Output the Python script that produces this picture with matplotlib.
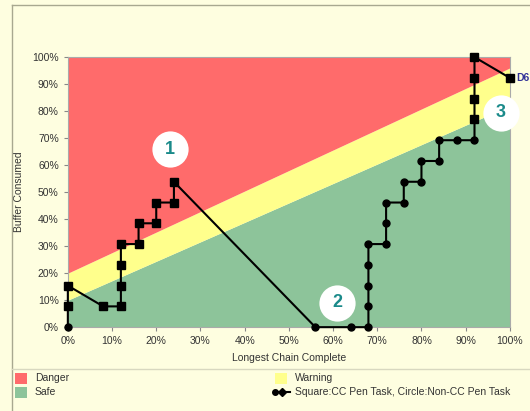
"""
Buffer fever chart: buffer consumed against longest chain complete.
"""

import matplotlib
matplotlib.use("Agg")
import matplotlib.pyplot as plt
from matplotlib.lines import Line2D
from matplotlib.patches import Rectangle

plt.rcParams["font.family"] = ["Liberation Sans", "DejaVu Sans"]

STEP = 100 / 13

# zone boundaries (percent of buffer consumed at 0% and 100% chain complete)
BAND_X = [0, 100]
SAFE_TOP = [10, 82]
WARN_TOP = [20, 96]

# task history
CHAIN_PCT = [0, 0, 0, 8, 12, 12, 12, 12, 16, 16, 20, 20, 24, 24,
             56, 64, 68, 68, 68, 68, 68, 72, 72, 72, 76, 76, 80, 80,
             84, 84, 88, 92, 92, 92, 92, 92, 100]
BUFFER_STEPS = [0, 1, 2, 1, 1, 2, 3, 4, 4, 5, 5, 6, 6, 7,
                0, 0, 0, 1, 2, 3, 4, 4, 5, 6, 6, 7, 7, 8,
                8, 9, 9, 9, 10, 11, 12, 13, 12]
IS_CC_TASK = [False] + [True] * 13 + [False] * 18 + [True] * 5

CALLOUTS = [("1", 23.1, 65.8), ("2", 61.0, 9.1), ("3", 98.0, 79.4)]
LAST_LABEL = "D6"

BG = "#fefee0"
RED = "#ff6b6b"
YELLOW = "#ffff8c"
GREEN = "#8dc49a"
TEXT = "#333333"


def create_fever_chart() -> None:
    """Draw the fever chart and save it."""
    buffer_pct = [s * STEP for s in BUFFER_STEPS]

    fig = plt.figure(figsize=(5.30, 4.11), dpi=100, facecolor=BG)
    ax = fig.add_axes([0.128, 0.204, 0.834, 0.657])

    lower = [0, 0]
    top = [100, 100]
    ax.fill_between(BAND_X, lower, SAFE_TOP, color=GREEN, lw=0)
    ax.fill_between(BAND_X, SAFE_TOP, WARN_TOP, color=YELLOW, lw=0)
    ax.fill_between(BAND_X, WARN_TOP, top, color=RED, lw=0)

    ax.plot(CHAIN_PCT, buffer_pct, color="black", lw=1.5, zorder=3,
            clip_on=False)
    sq_x = [x for x, cc in zip(CHAIN_PCT, IS_CC_TASK) if cc]
    sq_y = [y for y, cc in zip(buffer_pct, IS_CC_TASK) if cc]
    ci_x = [x for x, cc in zip(CHAIN_PCT, IS_CC_TASK) if not cc]
    ci_y = [y for y, cc in zip(buffer_pct, IS_CC_TASK) if not cc]
    ax.plot(sq_x, sq_y, "s", color="black", ms=5.5, zorder=4, clip_on=False)
    ax.plot(ci_x, ci_y, "o", color="black", ms=5, zorder=4, clip_on=False)

    ax.text(CHAIN_PCT[-1] + 1.5, buffer_pct[-1], LAST_LABEL, color="#333399",
            fontsize=7.5, fontweight="bold", va="center", clip_on=False)

    for label, cx, cy in CALLOUTS:
        ax.scatter([cx], [cy], s=680, color="white", zorder=5, clip_on=False,
                   linewidths=0)
        ax.text(cx, cy, label, color="#1a8a8a", fontsize=13,
                fontweight="bold", ha="center", va="center", zorder=6)

    ax.set_xlim(0, 100)
    ax.set_ylim(0, 100)
    ticks = range(0, 101, 10)
    ax.set_xticks(ticks)
    ax.set_yticks(ticks)
    ax.set_xticklabels([f"{t}%" for t in ticks])
    ax.set_yticklabels([f"{t}%" for t in ticks])
    ax.tick_params(labelsize=7.5, colors="#888888", labelcolor=TEXT,
                   length=3, width=0.8)
    for spine in ax.spines.values():
        spine.set_color("#aaaaaa")
        spine.set_linewidth(0.8)

    ax.set_xlabel("Longest Chain Complete", fontsize=7.5, color=TEXT,
                  labelpad=5)
    ax.set_ylabel("Buffer Consumed", fontsize=7.5, color=TEXT, labelpad=6)

    # outer frame lines and legend separator
    fig.add_artist(Line2D([11.5 / 530, 11.5 / 530], [0, 1 - 5.5 / 411],
                          color="#a8a890", lw=1))
    fig.add_artist(Line2D([11.5 / 530, 1], [1 - 5.5 / 411, 1 - 5.5 / 411],
                          color="#a8a890", lw=1))
    fig.add_artist(Line2D([11.5 / 530, 1], [1 - 369 / 411, 1 - 369 / 411],
                          color="#d8d8c0", lw=1))

    # legend
    def swatch(x, y, color):
        fig.add_artist(Rectangle((x / 530, 1 - (y + 6) / 411), 12 / 530,
                                 11 / 411, color=color, lw=0))

    swatch(15, 378, RED)
    swatch(15, 392, GREEN)
    swatch(275, 378, YELLOW)
    fig.add_artist(Line2D([275 / 530, 290 / 530],
                          [1 - 392 / 411, 1 - 392 / 411],
                          color="black", lw=1.5, marker="o", ms=4,
                          markevery=[0]))
    fig.add_artist(Line2D([282 / 530], [1 - 392 / 411], color="black",
                          marker="D", ms=4.5, lw=0))
    entries = [("Danger", 35, 378), ("Safe", 35, 392),
               ("Warning", 295, 378),
               ("Square:CC Pen Task, Circle:Non-CC Pen Task", 295, 392)]
    for text, x, y in entries:
        fig.text(x / 530, 1 - y / 411, text, fontsize=7.5, color=TEXT,
                 va="center")

    fig.savefig("out.png", dpi=100, facecolor=BG)


if __name__ == "__main__":
    create_fever_chart()
